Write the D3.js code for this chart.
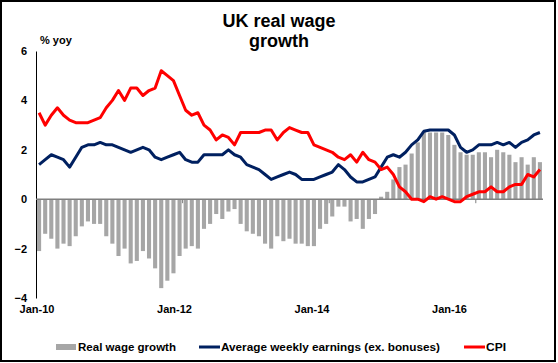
<!DOCTYPE html>
<html>
<head>
<meta charset="utf-8">
<script src="https://cdn.jsdelivr.net/npm/d3@7/dist/d3.min.js"></script>
<style>
  body { margin: 0; background: #fff; }
  svg { display: block; font-family: "Liberation Sans", Arial, sans-serif; }
  .tick-label { font-size: 11px; font-weight: bold; fill: #000; }
</style>
</head>
<body>
<div id="chart"></div>
<script>
// 月度数据：2010年1月 至 2016年11月
const realWage = [
  -2.1, -1.4, -1.6, -2.0, -1.8, -1.9, -1.5, -1.1, -0.9, -1.0, -1.0, -1.5,
  -1.8, -2.3, -2.0, -2.6, -2.5, -2.1, -2.4, -2.8, -3.6, -3.3, -3.0, -2.3,
  -2.0, -1.9, -2.0, -1.2, -1.0, -0.6, -0.8, -0.5, -0.4, -1.0, -1.3, -1.4,
  -1.5, -1.8, -2.0, -1.5, -1.7, -1.6, -1.8, -1.8, -1.9, -1.9, -1.2, -1.0,
  -0.7, -0.3, -0.3, -0.9, -0.8, -1.2, -0.8, -0.6, 0.1, 0.3, 0.8, 1.3,
  1.4, 1.85, 2.3, 2.75, 2.7, 2.7, 2.7, 2.6, 2.2, 1.9, 1.8, 1.8,
  1.9, 1.9, 1.7, 2.0, 1.9, 1.8, 1.5, 1.7, 1.4, 1.7, 1.5
];

const earnings = [
  1.4, 1.6, 1.8, 1.7, 1.6, 1.3, 1.7, 2.1, 2.2, 2.2, 2.3, 2.2,
  2.2, 2.1, 2.0, 1.9, 2.0, 2.1, 2.0, 1.7, 1.6, 1.7, 1.8, 1.9,
  1.6, 1.5, 1.5, 1.8, 1.8, 1.8, 1.8, 2.0, 1.8, 1.7, 1.4, 1.3,
  1.2, 1.0, 0.8, 0.9, 1.0, 1.1, 1.0, 0.8, 0.8, 0.8, 0.9, 1.0,
  1.1, 1.4, 1.2, 0.9, 0.7, 0.7, 0.8, 0.9, 1.3, 1.7, 1.8, 1.7,
  1.9, 2.2, 2.4, 2.75, 2.8, 2.8, 2.8, 2.8, 2.6, 2.1, 1.9, 2.0,
  2.2, 2.2, 2.2, 2.3, 2.2, 2.3, 2.1, 2.3, 2.4, 2.6, 2.7
];

const cpi = [
  3.5, 3.0, 3.4, 3.7, 3.4, 3.2, 3.1, 3.1, 3.1, 3.2, 3.3, 3.7,
  4.0, 4.4, 4.0, 4.5, 4.5, 4.2, 4.4, 4.5, 5.2, 5.0, 4.8, 4.2,
  3.6, 3.4, 3.5, 3.0, 2.8, 2.4, 2.6, 2.5, 2.2, 2.7, 2.7, 2.7,
  2.7, 2.8, 2.8, 2.4, 2.7, 2.9, 2.8, 2.7, 2.7, 2.2, 2.1, 2.0,
  1.9, 1.7, 1.6, 1.8, 1.5, 1.9, 1.6, 1.5, 1.2, 1.3, 1.0, 0.5,
  0.3, 0.0, 0.0, -0.1, 0.1, 0.0, 0.1, 0.0, -0.1, -0.1, 0.1, 0.2,
  0.3, 0.3, 0.5, 0.3, 0.3, 0.5, 0.6, 0.6, 1.0, 0.9, 1.2
];

const xLabels = ["Jan-10", "Jan-12", "Jan-14", "Jan-16"];
const yTicks = [-4, -2, 0, 2, 4, 6];
const tickEvery = 24;

const legendItems = [
  { name: "Real wage growth", type: "bar", color: "#a6a6a6" },
  { name: "Average weekly earnings (ex. bonuses)", type: "line", color: "#002060" },
  { name: "CPI", type: "line", color: "#ff0000" }
];

const width = 558, height = 363;
const plot = { left: 36, right: 543, top: 51, bottom: 298 };

const svg = d3.select("#chart").append("svg")
  .attr("width", width)
  .attr("height", height);

// 外框
svg.append("rect")
  .attr("x", 1).attr("y", 1)
  .attr("width", 554).attr("height", 360)
  .attr("fill", "#fff")
  .attr("stroke", "#000")
  .attr("stroke-width", 2);

// 标题
const title = svg.append("text")
  .attr("text-anchor", "middle")
  .attr("font-size", 18)
  .attr("font-weight", "bold");
title.append("tspan").attr("x", 279).attr("y", 27).text("UK real wage");
title.append("tspan").attr("x", 279).attr("y", 47).text("growth");

svg.append("text")
  .attr("x", 40).attr("y", 44)
  .attr("font-size", 11)
  .attr("font-weight", "bold")
  .text("% yoy");

// 比例尺
const idx = d3.range(realWage.length);
const x = d3.scaleBand()
  .domain(idx)
  .range([plot.left, plot.right])
  .paddingInner(0.33)
  .paddingOuter(0.17);

const step = (plot.right - plot.left) / idx.length;
const y = d3.scaleLinear().domain([-4, 6]).range([plot.bottom, plot.top]);

// Y 轴
const yAxis = svg.append("g")
  .attr("transform", `translate(${plot.left},0)`)
  .call(d3.axisLeft(y).tickValues(yTicks).tickSize(0).tickPadding(9).tickFormat(d3.format("d")));
yAxis.select(".domain").attr("stroke", "#000").attr("stroke-width", 1);
yAxis.selectAll("text").attr("class", "tick-label").style("font-family", "inherit");

// 柱状
svg.append("g").selectAll("rect")
  .data(realWage)
  .join("rect")
  .attr("x", (d, i) => x(i))
  .attr("width", x.bandwidth())
  .attr("y", d => y(Math.max(0, d)))
  .attr("height", d => Math.abs(y(d) - y(0)))
  .attr("fill", "#a6a6a6");

// 零线和刻度
svg.append("line")
  .attr("x1", plot.left).attr("x2", plot.right)
  .attr("y1", y(0)).attr("y2", y(0))
  .attr("stroke", "#7f7f7f")
  .attr("stroke-width", 1.5);

const tickIdx = idx.filter(i => i > 0 && i % tickEvery === 0);
svg.append("g").selectAll("line")
  .data(tickIdx)
  .join("line")
  .attr("x1", i => plot.left + i * step)
  .attr("x2", i => plot.left + i * step)
  .attr("y1", y(0))
  .attr("y2", y(0) + 4)
  .attr("stroke", "#7f7f7f")
  .attr("stroke-width", 1);

// 折线
const line = d3.line()
  .x((d, i) => x(i) + x.bandwidth() / 2)
  .y(d => y(d));

svg.append("path")
  .datum(earnings)
  .attr("fill", "none")
  .attr("stroke", "#002060")
  .attr("stroke-width", 3)
  .attr("stroke-linejoin", "round")
  .attr("d", line);

svg.append("path")
  .datum(cpi)
  .attr("fill", "none")
  .attr("stroke", "#ff0000")
  .attr("stroke-width", 3)
  .attr("stroke-linejoin", "round")
  .attr("d", line);

// X 轴标签
const xl = d3.scalePoint().domain(xLabels).range([36.5, 449]);
const xAxis = svg.append("g")
  .attr("transform", "translate(0,305)")
  .call(d3.axisBottom(xl).tickSize(0).tickPadding(0));
xAxis.select(".domain").remove();
xAxis.selectAll("text")
  .attr("class", "tick-label")
  .attr("dy", "0.71em")
  .style("font-family", "inherit");

// 图例
const legendX = [56, 199, 464];
const legendTextLen = [98, 219, 20];
const legend = svg.append("g").selectAll("g")
  .data(legendItems)
  .join("g")
  .attr("transform", (d, i) => `translate(${legendX[i]},347)`);

legend.filter(d => d.type === "bar").append("rect")
  .attr("x", 0).attr("y", -3)
  .attr("width", 20).attr("height", 6)
  .attr("fill", d => d.color);

legend.filter(d => d.type === "line").append("line")
  .attr("x1", 0).attr("x2", 21)
  .attr("y1", 0).attr("y2", 0)
  .attr("stroke", d => d.color)
  .attr("stroke-width", 3);

legend.append("text")
  .attr("x", 22)
  .attr("dy", "0.35em")
  .attr("font-size", 11)
  .attr("font-weight", "bold")
  .attr("textLength", (d, i) => legendTextLen[i])
  .attr("lengthAdjust", "spacingAndGlyphs")
  .text(d => d.name);
</script>
</body>
</html>
